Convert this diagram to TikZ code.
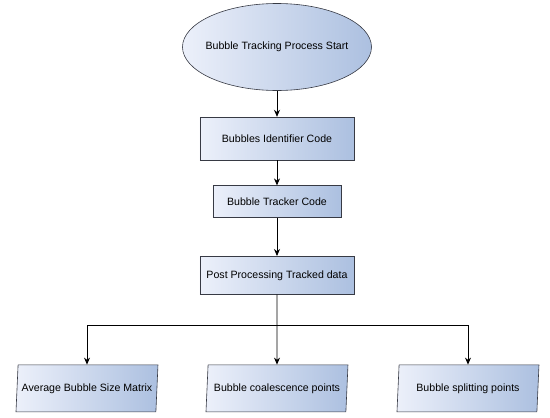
\documentclass[tikz,border=0pt]{standalone}
\usepackage{fontspec}
\setmainfont{Liberation Sans}
\usepackage{tikz}
\usetikzlibrary{arrows.meta,positioning,shapes.geometric}
\definecolor{shadelight}{RGB}{236,240,250}
\definecolor{shadedark}{RGB}{172,192,224}
\definecolor{edgegray}{RGB}{55,58,68}

\begin{document}
\begin{tikzpicture}[
  font=\fontsize{10.6}{12.5}\selectfont,
  startnode/.style = {
    ellipse, draw=edgegray, line width=0.6pt,
    left color=shadelight, right color=shadedark,
    minimum width=189pt, minimum height=87pt, inner xsep=-15pt, inner ysep=0pt
  },
  procbox/.style = {
    rectangle, draw=edgegray, line width=0.6pt,
    left color=shadelight, right color=shadedark, inner sep=0pt
  },
  outbox/.style = {
    trapezium, trapezium left angle=78, trapezium right angle=102,
    trapezium stretches body, draw=edgegray, line width=0.6pt,
    left color=shadelight, right color=shadedark,
    minimum width=142pt, minimum height=47pt, inner sep=0pt
  },
  arr/.style = {-{Stealth[length=7pt,width=6pt]}, line width=0.8pt, black}
]
  \useasboundingbox (-277pt,47pt) rectangle (273pt,-371pt);

  \node[startnode] (start) at (0,0) {Bubble Tracking Process Start};
  \node[procbox, minimum width=154pt, minimum height=43pt, below=26pt of start] (ident)   {Bubbles Identifier Code};
  \node[procbox, minimum width=128pt, minimum height=32pt, below=25pt of ident] (tracker) {Bubble Tracker Code};
  \node[procbox, minimum width=154pt, minimum height=38pt, below=38pt of tracker] (post) {Post Processing Tracked data};

  \node[outbox, below=70pt of post]               (coal)  {Bubble coalescence points};
  \node[outbox, below=70pt of post, xshift=-190pt] (avg)   {Average Bubble Size Matrix};
  \node[outbox, below=70pt of post, xshift=191pt]  (split) {Bubble splitting points};

  \coordinate[below=31pt of post] (fork);

  \draw[arr] (start)   -- (ident);
  \draw[arr] (ident)   -- (tracker);
  \draw[arr] (tracker) -- (post);
  \draw[arr] (post)    -- (coal);
  \draw[arr] (fork) -| (avg.north);
  \draw[arr] (fork) -| (split.north);
\end{tikzpicture}
\end{document}
